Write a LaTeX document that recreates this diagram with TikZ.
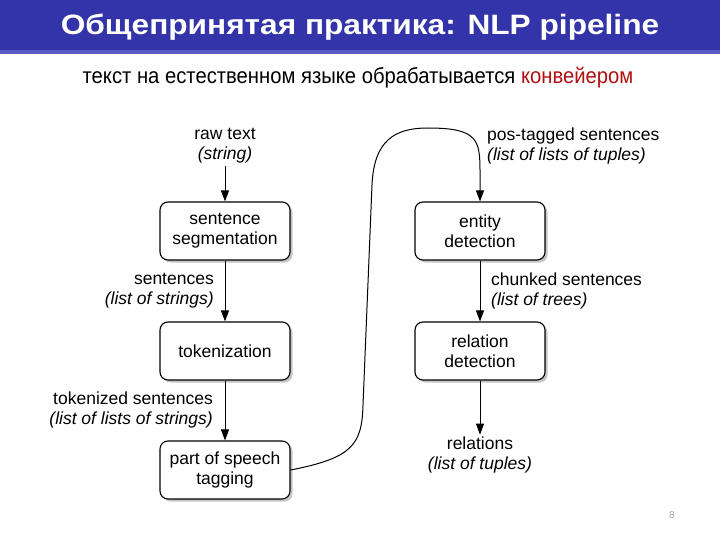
\documentclass[tikz,border=0pt]{standalone}
\usepackage{fontspec}
\setmainfont{Liberation Sans}
\newfontfamily\narrowfont[FakeStretch=0.92]{Liberation Sans}
\newfontfamily\widefont[FakeStretch=1.13]{Liberation Sans}
\usetikzlibrary{arrows.meta,shadows,calc}
\definecolor{titleblue}{RGB}{52,52,170}
\definecolor{titleline}{RGB}{92,92,196}
\definecolor{darkred}{RGB}{176,16,16}
\tikzset{
  stagebox/.style={draw=black, line width=1.1pt, rounded corners=8pt, fill=white,
    minimum width=130pt, minimum height=58pt, align=center,
    font=\fontsize{17.5}{20}\selectfont,
    drop shadow={opacity=0.45, shadow xshift=2.5pt, shadow yshift=-2.5pt}},
  datalabel/.style={inner sep=2pt, font=\fontsize{17.5}{20}\selectfont},
  flow/.style={line width=1pt, -{Triangle[width=8pt,length=11pt]}},
}
\begin{document}
\begin{tikzpicture}[x=1pt,y=-1pt]
\useasboundingbox (0,0) rectangle (720,540);
\fill[white] (0,0) rectangle (720,540);
% title bar
\fill[titleblue] (0,0) rectangle (720,50);
\fill[titleline] (0,50) rectangle (720,54);
\node[text=white, font=\widefont\bfseries\fontsize{28}{32}\selectfont] (title) at (360,27) {Общепринятая практика: NLP pipeline};
\node[font=\narrowfont\fontsize{22}{26}\selectfont] (subtitle) at (358,78) {текст на естественном языке обрабатывается \textcolor{darkred}{конвейером}};
% left column
\node[datalabel, align=center] (raw) at (225,146) {raw text\\\textit{(string)}};
\node[stagebox] (seg) at (225,231) {sentence\\segmentation};
\node[datalabel, align=right, anchor=east] (sent) at (216,291) {sentences\\\textit{(list of strings)}};
\node[stagebox] (tok) at (225,351) {tokenization};
\node[datalabel, align=right, anchor=east] (toksent) at (215,410) {tokenized sentences\\\textit{(list of lists of strings)}};
\node[stagebox] (pos) at (225,470) {part of speech\\tagging};
% right column
\node[datalabel, align=left, anchor=west] (postag) at (485,146) {pos-tagged sentences\\\textit{(list of lists of tuples)}};
\node[stagebox] (ent) at (480,231) {entity\\detection};
\node[datalabel, align=left, anchor=west] (chunk) at (489,291) {chunked sentences\\\textit{(list of trees)}};
\node[stagebox] (rel) at (480,351) {relation\\detection};
\node[datalabel, align=center] (relations) at (480,455) {relations\\\textit{(list of tuples)}};
% connectors
\draw[flow] (raw) -- (seg);
\draw[flow] (seg) -- (tok);
\draw[flow] (tok) -- (pos);
\coordinate (c1) at (363,405);
\coordinate (c2) at (372,185);
\coordinate (c3) at (428,128);
\coordinate (c4) at (480,172);
\draw[flow] (pos.east) .. controls (352,458) and (362,445) .. (c1) -- (c2)
  .. controls (374,140) and (395,128) .. (c3)
  .. controls (478,128) and (480,140) .. (c4) -- (ent.north);
\draw[flow] (ent) -- (rel);
\draw[flow] (rel) -- (relations);
% page number
\node[text=black!35, font=\fontsize{10}{12}\selectfont] (page) at (672,515) {8};
\end{tikzpicture}
\end{document}
